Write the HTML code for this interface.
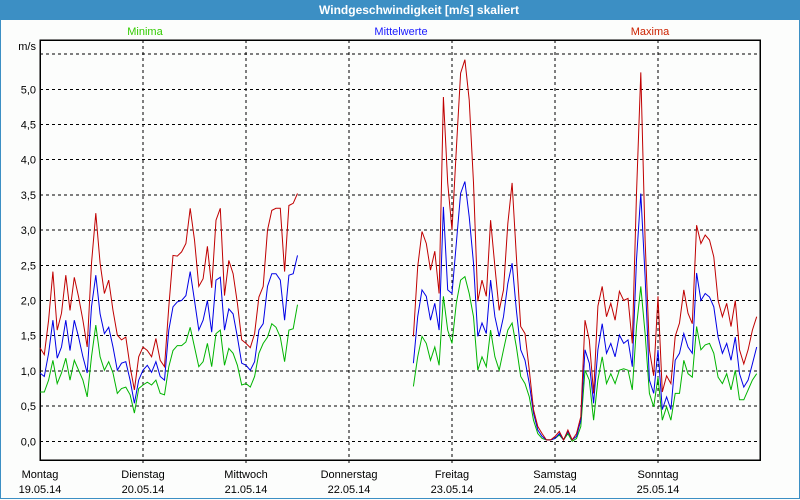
<!DOCTYPE html>
<html><head><meta charset="utf-8"><style>
html,body{margin:0;padding:0;width:800px;height:500px;overflow:hidden;background:#fcfdfc;font-family:Tahoma,"Liberation Sans",sans-serif;}
#frame{position:absolute;left:0;top:0;width:798px;height:498px;border:1px solid #3c8fc4;border-top:none;}
#titlebar{position:absolute;left:0;top:0;width:800px;height:20px;background:#3c8fc4;color:#fff;font-weight:bold;font-size:12px;line-height:21px;text-align:center;}
svg{position:absolute;left:0;top:0;}
svg text{font-family:Tahoma,"Liberation Sans",sans-serif;font-size:11px;}
</style></head><body>
<div id="frame"></div>
<div id="titlebar"><span style="position:relative;left:19px">Windgeschwindigkeit [m/s] skaliert</span></div>
<svg id="chart" width="800" height="500"></svg>
<script>
const dayNames=["Montag","Dienstag","Mittwoch","Donnerstag","Freitag","Samstag","Sonntag"];
const dayDates=["19.05.14","20.05.14","21.05.14","22.05.14","23.05.14","24.05.14","25.05.14"];
const yTicks=[0,0.5,1,1.5,2,2.5,3,3.5,4,4.5,5,5.5];
const yTickLabels=["0,0","0,5","1,0","1,5","2,0","2,5","3,0","3,5","4,0","4,5","5,0",""];
const seg1Start=0;
const seg2Start=87;
const max1=[1.33,1.23,1.72,2.41,1.58,1.82,2.36,1.86,2.33,2.05,1.72,1.34,2.53,3.24,2.53,2.1,2.29,1.86,1.51,1.44,1.48,1.06,0.73,1.2,1.34,1.29,1.2,1.46,1.15,1.06,1.91,2.64,2.63,2.69,2.81,3.31,2.86,2.2,2.31,2.77,2.18,3.14,3.31,2.07,2.57,2.38,1.96,1.44,1.39,1.33,1.53,2.05,2.2,3.0,3.28,3.31,3.31,2.41,3.35,3.38,3.52];
const mean1=[0.97,0.92,1.25,1.72,1.18,1.34,1.72,1.29,1.72,1.48,1.2,0.97,1.91,2.36,1.81,1.53,1.62,1.34,1.01,1.11,1.13,0.87,0.54,0.87,1.01,1.08,0.98,1.13,0.92,0.87,1.58,1.91,1.98,2.0,2.07,2.41,2.0,1.58,1.72,2.0,1.55,2.29,2.33,1.58,1.88,1.81,1.48,1.11,1.08,1.01,1.13,1.58,1.67,2.2,2.38,2.38,2.29,1.72,2.36,2.38,2.64];
const min1=[0.7,0.7,0.87,1.15,0.82,0.97,1.18,0.87,1.15,1.01,0.87,0.63,1.2,1.65,1.2,1.01,1.13,0.97,0.68,0.75,0.77,0.66,0.4,0.75,0.8,0.84,0.8,0.87,0.68,0.66,1.06,1.29,1.36,1.36,1.41,1.62,1.34,1.06,1.13,1.39,1.06,1.53,1.58,1.08,1.32,1.25,1.08,0.8,0.82,0.77,0.92,1.25,1.39,1.48,1.67,1.62,1.48,1.13,1.58,1.6,1.94];
const max2=[1.49,2.48,2.98,2.81,2.43,2.7,2.1,4.89,3.67,3.0,4.14,5.23,5.42,4.85,3.67,1.99,2.29,2.06,3.14,2.48,1.86,2.15,3.09,3.67,2.62,1.63,1.53,1.01,0.45,0.21,0.11,0.02,0.02,0.07,0.14,0.02,0.16,0.02,0.11,0.35,1.72,1.44,0.68,1.92,2.2,1.77,1.96,1.72,2.13,2.0,2.03,1.39,3.52,5.24,2.86,1.3,0.93,2.06,0.7,0.93,0.82,1.49,1.68,2.15,1.82,1.67,3.07,2.81,2.93,2.86,2.62,2.0,1.77,1.96,1.63,2.0,1.3,1.1,1.3,1.58,1.77];
const mean2=[1.11,1.77,2.15,2.06,1.72,1.96,1.58,3.33,2.15,2.1,2.81,3.52,3.69,3.19,2.53,1.49,1.68,1.53,2.29,1.77,1.49,1.77,2.24,2.53,1.86,1.3,1.15,0.82,0.4,0.16,0.07,0.02,0.02,0.04,0.11,0.02,0.14,0.02,0.07,0.3,1.3,1.11,0.54,1.3,1.67,1.25,1.39,1.2,1.51,1.39,1.44,1.06,2.58,3.52,2.34,0.87,0.68,1.3,0.45,0.63,0.45,1.15,1.25,1.53,1.34,1.25,2.39,2.0,2.1,2.05,1.91,1.48,1.25,1.39,1.15,1.48,0.96,0.77,0.87,1.1,1.34];
const min2=[0.78,1.2,1.49,1.39,1.15,1.34,1.08,2.06,1.58,1.39,1.96,2.29,2.34,2.1,1.77,1.01,1.2,1.06,1.58,1.2,1.01,1.3,1.58,1.68,1.34,0.92,0.82,0.63,0.3,0.11,0.04,0.02,0.02,0.04,0.09,0.02,0.11,0,0.04,0.21,1.01,0.87,0.3,0.87,1.2,0.82,0.96,0.82,1.01,1.03,1.01,0.73,1.63,2.2,1.53,0.68,0.49,0.91,0.3,0.49,0.3,0.68,0.68,1.15,0.96,0.91,1.63,1.3,1.37,1.39,1.25,0.91,0.82,0.96,0.73,1.01,0.59,0.59,0.73,0.87,0.96];

const NS="http://www.w3.org/2000/svg";
const svg=document.getElementById('chart');
const L=40,R=760,T=40,B=460;
const xDay=d=>L+d*103;
const xHour=h=>L+h*103/24;
const yVal=v=>441.3-v*70.4;
function mk(tag,attrs){const e=document.createElementNS(NS,tag);for(const k in attrs)e.setAttribute(k,attrs[k]);svg.appendChild(e);return e;}

yTicks.forEach((v,i)=>{
  const g=mk('line',{x1:L,x2:R,y1:yVal(v),y2:yVal(v),stroke:'#000','stroke-width':1,'stroke-dasharray':'3,3','shape-rendering':'crispEdges'});
  
  
  if(yTickLabels[i]){
    const t=mk('text',{x:36,y:yVal(v)+4,'text-anchor':'end',fill:'#000'});
    t.textContent=yTickLabels[i];
    
    
  }
});
for(let d=0;d<7;d++){
  if(d>0){
    const g=mk('line',{x1:xDay(d),x2:xDay(d),y1:T,y2:B+3,stroke:'#000','stroke-width':1,'stroke-dasharray':'3,3','shape-rendering':'crispEdges'});
    
    
  }
  const t1=mk('text',{x:xDay(d),y:478,'text-anchor':'middle',fill:'#000'});
  t1.textContent=dayNames[d];
  
  
  const t2=mk('text',{x:xDay(d),y:493,'text-anchor':'middle',fill:'#000'});
  t2.textContent=dayDates[d];
  
  
}
const box=mk('rect',{x:L,y:T,width:R-L,height:B-T,fill:'none',stroke:'#000','stroke-width':1.5,'shape-rendering':'crispEdges'});


const unit=mk('text',{x:36,y:50,'text-anchor':'end',fill:'#000'});
unit.textContent='m/s';



function series(arr,start,color,name){
  const pts=arr.map((v,i)=>xHour(start+i).toFixed(1)+','+yVal(v).toFixed(1)).join(' ');
  const p=mk('polyline',{points:pts,fill:'none',stroke:color,'stroke-width':1,'stroke-linejoin':'miter'});
  
  
}
series(min1,seg1Start,'#00b400','series-minima');
series(min2,seg2Start,'#00b400','series-minima');
series(mean1,seg1Start,'#0000e6','series-mittelwerte');
series(mean2,seg2Start,'#0000e6','series-mittelwerte');
series(max1,seg1Start,'#c00000','series-maxima');
series(max2,seg2Start,'#c00000','series-maxima');

[["Minima",145,'#33cc00'],["Mittelwerte",401,'#1a1aff'],["Maxima",650,'#cc2200']].forEach(([n,x,c])=>{
  const t=mk('text',{x:x,y:35,'text-anchor':'middle',fill:c});
  t.textContent=n;
  
  
});
</script>
</body></html>
